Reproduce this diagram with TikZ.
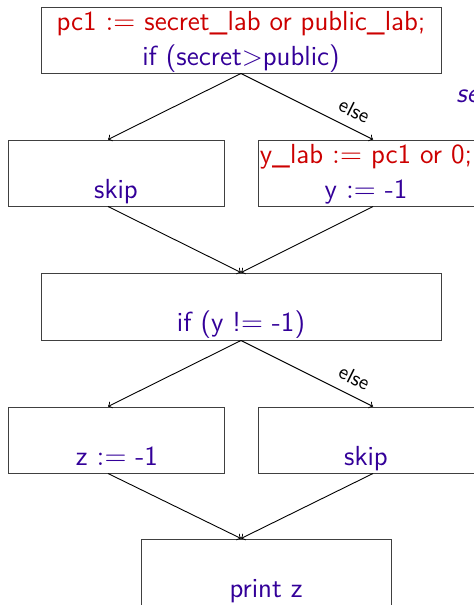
\documentclass[tikz,border=0pt]{standalone}
\usetikzlibrary{calc}
\definecolor{cred}{RGB}{204,0,0}
\definecolor{cblue}{RGB}{51,0,153}
\begin{document}
\begin{tikzpicture}[x=0.5pt,y=-0.5pt,
  box/.style={draw=black!75, line width=0.5pt, inner sep=0pt, minimum height=33pt},
  txt/.style={anchor=base, inner sep=0pt, font=\fontsize{13.8}{17}\selectfont\sffamily},
  arr/.style={->, line width=0.45pt},
  lbl/.style={font=\fontsize{10.5}{12}\selectfont\sffamily, sloped, above=1.5pt, pos=0.8}]
\useasboundingbox (0,0) rectangle (474,605);
\clip (0,0) rectangle (474,605);
% boxes
\node[box, minimum width=200pt] (b1) at (241,40) {};
\node[box, minimum width=108pt] (b2) at (116,173) {};
\node[box, minimum width=108.5pt] (b3) at (366.5,173) {};
\node[box, minimum width=200pt, minimum height=33.5pt] (b4) at (241,306.5) {};
\node[box, minimum width=108pt] (b5) at (116,440) {};
\node[box, minimum width=108.5pt] (b6) at (366.5,440) {};
\node[box, minimum width=125pt, minimum height=33.5pt] (b7) at (266,572.5) {};
% texts
\node[txt, text=cred] (t1a) at (241,31) {pc1 $:=$ secret\_lab or public\_lab;};
\node[txt, text=cblue] (t1b) at (241,65) {if (secret>public)};
\node[txt, text=cblue] (t2) at (116,198) {skip};
\node[txt, text=cred] (t3a) at (366,163) {y\_lab $:=$ pc1 or 0;};
\node[txt, text=cblue] (t3b) at (366,198) {y $:=$ -1};
\node[txt, text=cblue] (t4) at (241,331) {if (y !$=$ -1)};
\node[txt, text=cblue] (t5) at (117,465) {z $:=$ -1};
\node[txt, text=cblue] (t6) at (366,465) {skip};
\node[txt, text=cblue] (t7) at (266,597) {print z};
\node[txt, text=cblue, anchor=base west] (tse) at (456,102) {\itshape se};
% connectors
\draw[arr] (b1.south) -- ([xshift=-4pt]b2.north);
\draw[arr] (b1.south) -- node[lbl] {else} ([xshift=3.25pt]b3.north);
\draw[arr] ([xshift=-4pt]b2.south) -- (b4.north);
\draw[arr] ([xshift=3.25pt]b3.south) -- (b4.north);
\draw[arr] (b4.south) -- ([xshift=-4pt]b5.north);
\draw[arr] (b4.south) -- node[lbl] {else} ([xshift=3.25pt]b6.north);
\draw[arr] ([xshift=-4pt]b5.south) -- ([xshift=-12.5pt]b7.north);
\draw[arr] ([xshift=3.25pt]b6.south) -- ([xshift=-12.5pt]b7.north);
\end{tikzpicture}
\end{document}
